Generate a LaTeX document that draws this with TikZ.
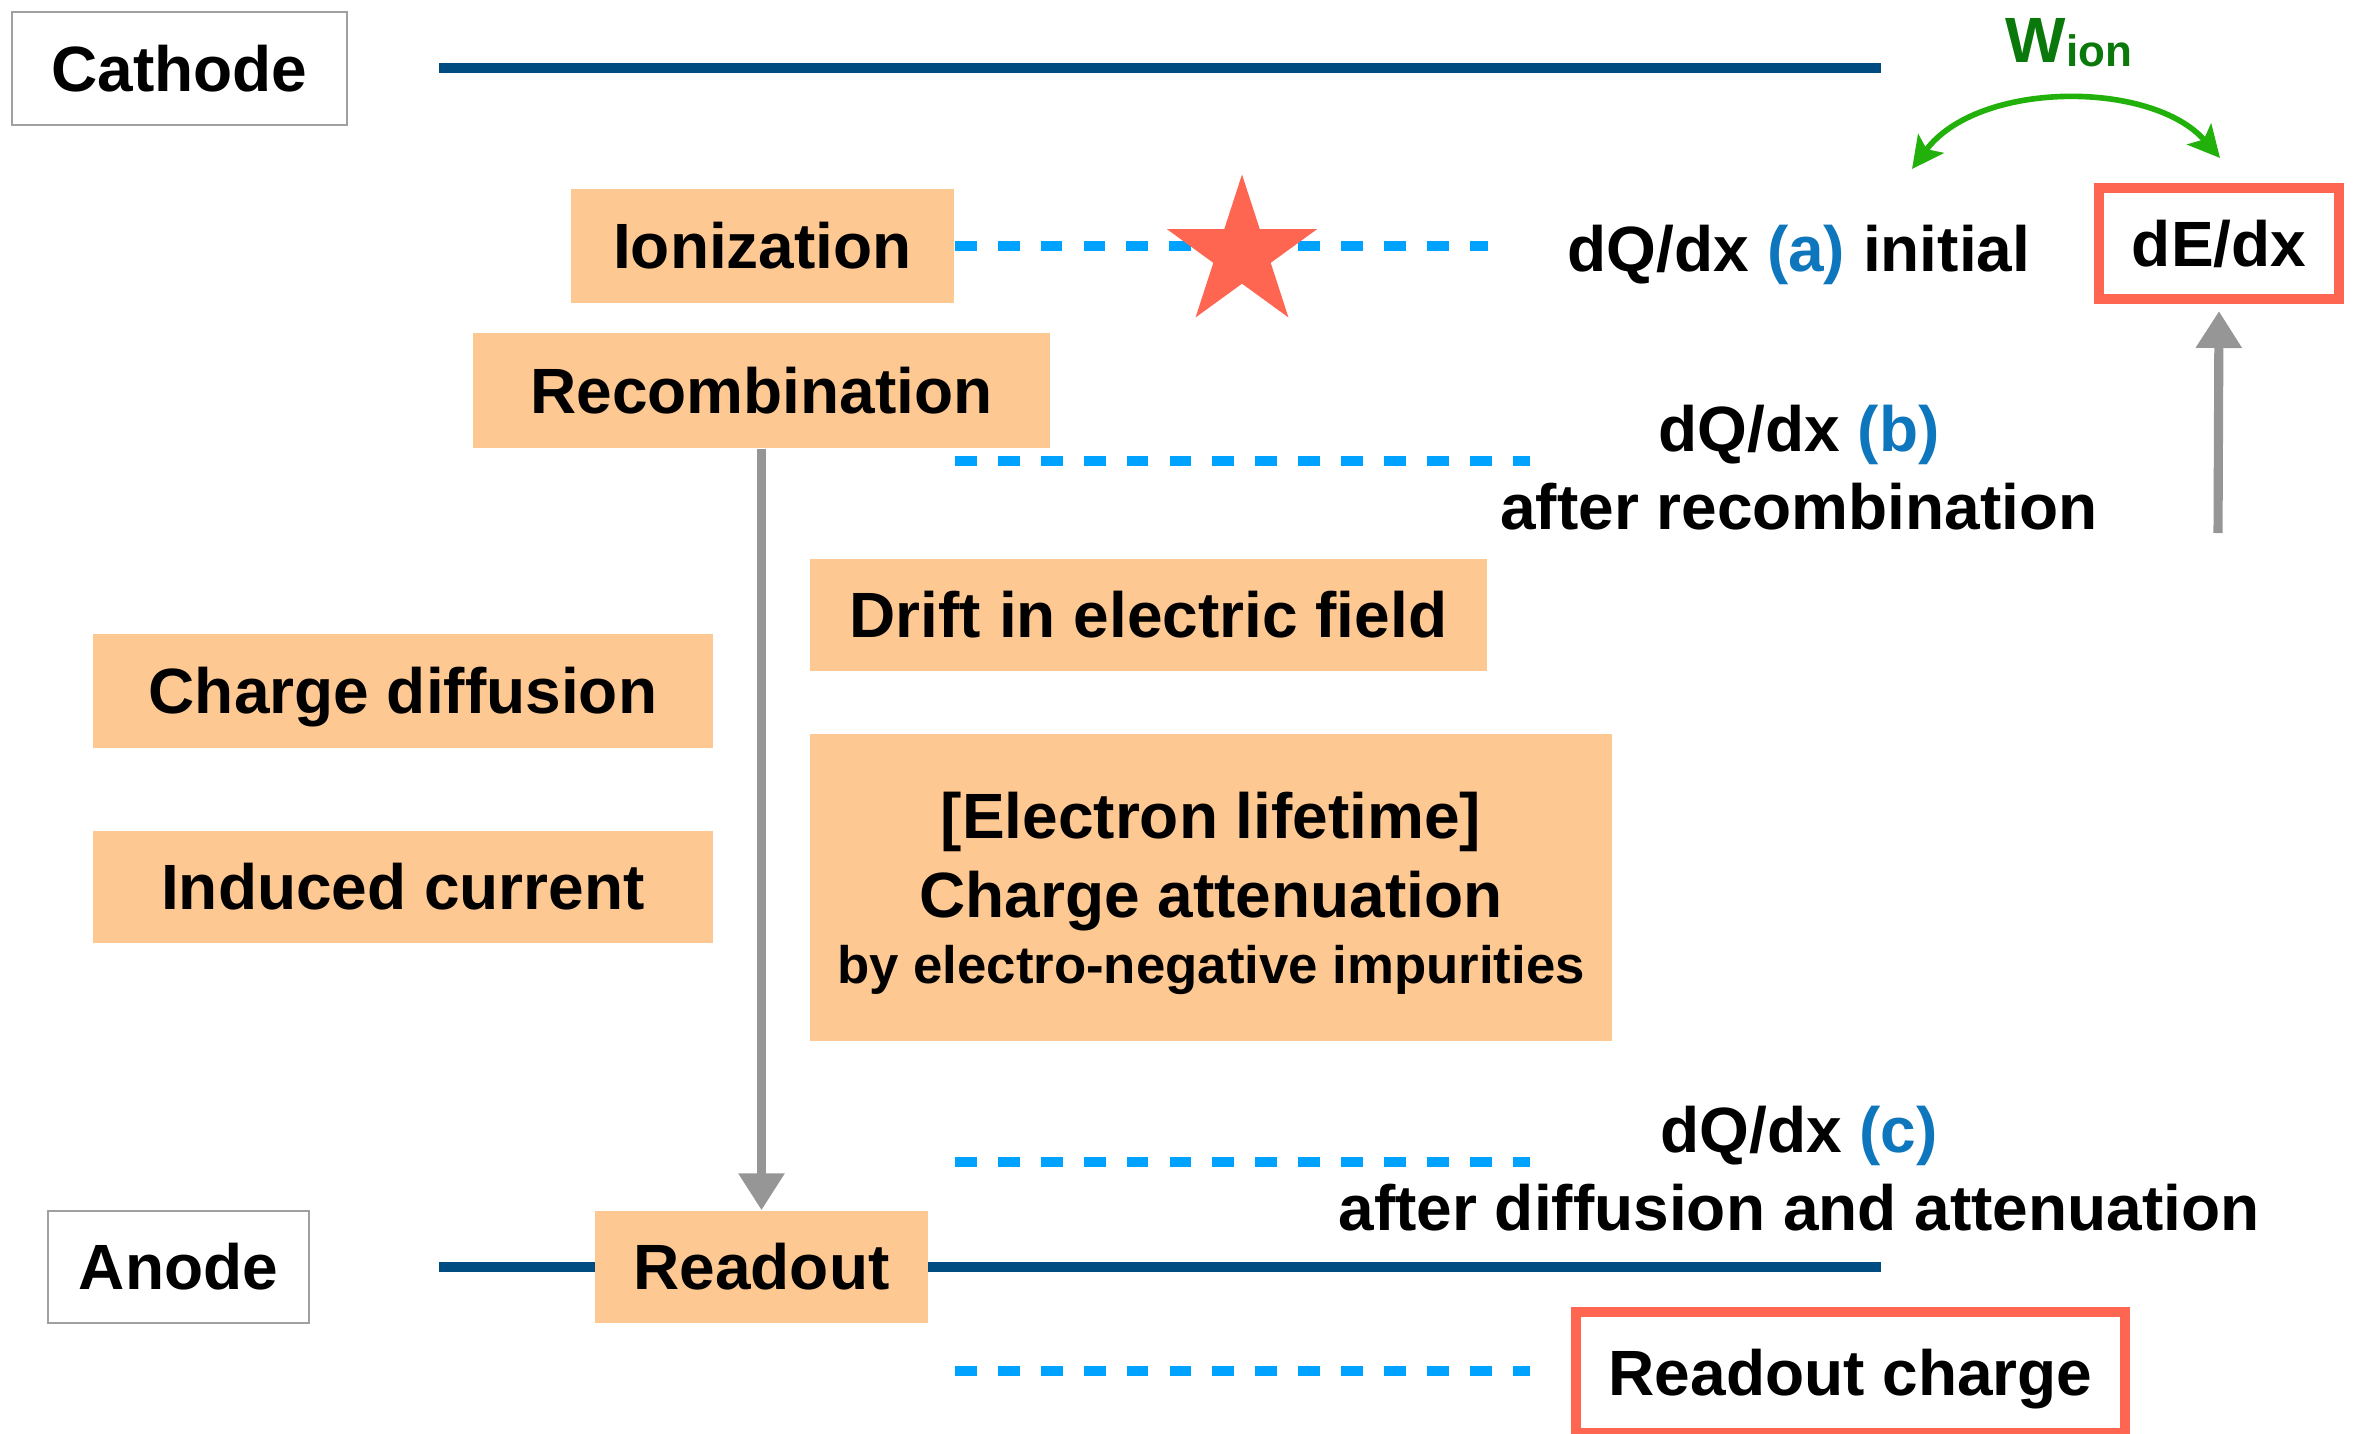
\documentclass[tikz,border=0pt]{standalone}
\usepackage{fontspec}
\setmainfont{Liberation Sans}
\usetikzlibrary{arrows.meta,shapes.geometric}
\definecolor{peach}{RGB}{254,200,146}
\definecolor{tomatoR}{RGB}{255,102,82}
\definecolor{dblue}{RGB}{0,76,128}
\definecolor{dashblue}{RGB}{0,162,255}
\definecolor{lblue}{RGB}{14,118,188}
\definecolor{dgreen}{RGB}{10,120,10}
\definecolor{lgreen}{RGB}{34,176,10}
\definecolor{agray}{RGB}{150,150,150}
\definecolor{bgray}{RGB}{160,160,160}
\newcommand\mainsz{\fontsize{18.2}{22}\selectfont\bfseries}
\newcommand\smallsz{\fontsize{15}{18}\selectfont\bfseries}
\begin{document}
\begin{tikzpicture}[x=0.01cm,y=-0.01cm,
 proc/.style={fill=peach, inner sep=0pt, text height=13pt, text depth=0pt, font=\mainsz},
 ends/.style={draw=bgray, line width=0.6pt, fill=white, inner sep=0pt, text height=13pt, text depth=0pt, font=\mainsz},
 result/.style={draw=tomatoR, line width=2.85pt, fill=white, inner sep=0pt, text height=13pt, text depth=0pt, font=\mainsz},
 lbl/.style={inner sep=0pt, text height=13pt, text depth=0pt, font=\mainsz},
 electrode/.style={draw=dblue, line width=2.6pt},
 level/.style={draw=dashblue, line width=3.1pt, dash pattern=on 6.2pt off 6pt},
 flow/.style={draw=agray, line width=2.6pt, -{Triangle[length=10.5pt,width=12.5pt]}},
 wion arc/.style={draw=lgreen, line width=1.6pt, {Stealth[length=9pt,width=9pt,inset=2pt]}-{Stealth[length=9pt,width=9pt,inset=2pt]}},
]
\useasboundingbox (0,0) rectangle (2355,1433);

% electrodes
\coordinate (cat1) at (439,68);
\coordinate (cat2) at (1881,68);
\coordinate (an1) at (439,1267);
\coordinate (an2) at (1881,1267);
\draw[electrode] (cat1) -- (cat2);
\draw[electrode] (an1) -- (an2);

\node[ends, minimum width=3.35cm, minimum height=1.13cm] (cathode) at (179.5,68.5) {Cathode};
\node[ends, minimum width=2.61cm, minimum height=1.12cm] (anode) at (178.5,1267) {Anode};

% process boxes
\node[proc, minimum width=3.83cm, minimum height=1.14cm] (ion) at (762.5,246) {Ionization};
\node[proc, minimum width=5.77cm, minimum height=1.15cm] (rec) at (761.5,390.5) {Recombination};
\node[proc, minimum width=6.77cm, minimum height=1.12cm] (drift) at (1148.5,615) {Drift in electric field};
\node[proc, minimum width=6.20cm, minimum height=1.14cm] (diff) at (403,691) {Charge diffusion};
\node[proc, minimum width=6.20cm, minimum height=1.12cm] (ind) at (403,887) {Induced current};
\node[proc, minimum width=8.02cm, minimum height=3.07cm] (elbox) at (1211,887.5) {};
\node[lbl] (el1) at (1211,815.5) {[Electron lifetime]};
\node[lbl] (el2) at (1211,894.5) {Charge attenuation};
\node[lbl, font=\smallsz, text height=10.7pt] (el3) at (1211,965) {by electro-negative impurities};
\node[proc, minimum width=3.33cm, minimum height=1.12cm] (read) at (761.5,1267) {Readout};

% dashed charge levels
\coordinate (a2) at (1488,246);
\coordinate (b1) at (955,461);
\coordinate (b2) at (1530,461);
\coordinate (c1) at (955,1162);
\coordinate (c2) at (1530,1162);
\coordinate (d1) at (955,1371);
\coordinate (d2) at (1530,1371);
\draw[level] (ion.east) -- (a2);
\draw[level] (b1) -- (b2);
\draw[level] (c1) -- (c2);
\draw[level] (d1) -- (d2);

% star
\node[star, star points=5, star point ratio=2.618, minimum size=1.58cm, inner sep=0pt, fill=tomatoR] (spark) at (1242,253.5) {};

% labels
\node[lbl] (qa) at (1799,248.5) {dQ/dx \textcolor{lblue}{(a)} initial};
\node[lbl] (qb) at (1799,428.5) {dQ/dx \textcolor{lblue}{(b)}};
\node[lbl] (qb2) at (1799,506.5) {after recombination};
\node[lbl] (qc) at (1799,1130) {dQ/dx \textcolor{lblue}{(c)}};
\node[lbl] (qc2) at (1799,1207.5) {after diffusion and attenuation};

% results
\node[result, minimum width=2.40cm, minimum height=1.11cm] (dedx) at (2219,243.5) {dE/dx};
\node[result, minimum width=5.49cm, minimum height=1.21cm] (rcharge) at (1850.5,1372.5) {Readout charge};

% arrows
\draw[flow] (rec.south) -- (read.north);
\coordinate (up0) at (2218,533);
\draw[flow, shorten >=2pt] (up0) -- (dedx.south);

% W_ion
\coordinate (wl) at (1912,169);
\coordinate (wr) at (2220,158);
\draw[wion arc] (wl) .. controls (1978,80) and (2152,80) .. (wr);
\node[anchor=base west, inner sep=0pt, font=\mainsz, text=dgreen] (wion) at (2005,62) {W\raisebox{-1.2pt}{\fontsize{12.5}{14}\selectfont ion}};
\end{tikzpicture}
\end{document}
